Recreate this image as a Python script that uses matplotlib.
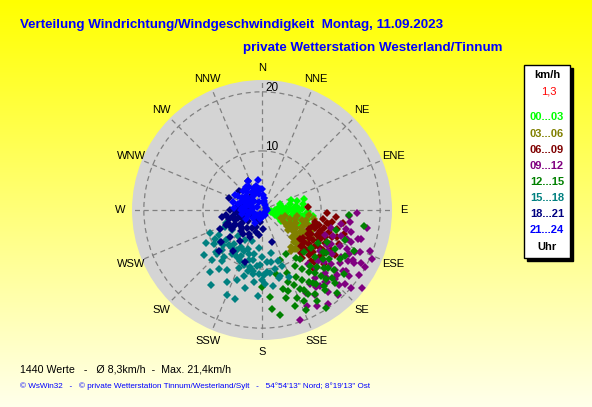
import numpy as np
import matplotlib
matplotlib.use("Agg")
import matplotlib.pyplot as plt
import matplotlib.transforms as mtransforms
from matplotlib.patches import Rectangle

# Windrichtung (Grad) / Windgeschwindigkeit (km/h), je Zeitabschnitt
dir_00_03 = [100, 95, 105, 88, 98, 110, 80, 92, 102, 115, 85, 95, 105, 112, 78, 90, 100, 108,
             84, 94, 103, 112, 88, 98, 106, 93, 101, 108, 97, 76, 71, 82, 115, 92, 85, 117, 70,
             96, 104, 91, 99, 107, 87, 94, 102, 110, 89, 97, 104, 95, 100, 86, 113, 120, 75]
spd_00_03 = [0.8, 1.5, 1.6, 2.2, 2.5, 2.3, 3.0, 3.2, 3.4, 3.1, 4.0, 4.2, 4.4, 4.0, 4.8, 5.0, 5.2, 5.4,
             5.8, 6.0, 6.2, 6.0, 6.8, 7.0, 7.2, 7.8, 8.0, 8.4, 8.7, 7.4, 5.1, 7.0, 5.5, 1.0, 3.5, 4.8, 3.2,
             2.8, 2.9, 3.8, 3.7, 3.8, 5.4, 5.5, 5.6, 5.8, 6.3, 6.5, 6.6, 7.4, 7.6, 4.5, 7.0, 3.8, 6.2]

dir_03_06 = [105, 112, 118, 108, 115, 122, 128, 100, 110, 118, 125, 132, 104, 113, 120, 127, 135, 142,
             108, 116, 123, 130, 138, 112, 119, 126, 96, 100, 133, 145, 121, 117,
             106, 114, 124, 130, 110, 122, 128, 134, 140, 115, 103]
spd_03_06 = [4.0, 3.5, 4.2, 5.0, 5.3, 5.0, 5.5, 6.0, 6.2, 6.5, 6.3, 6.8, 7.0, 7.3, 7.5, 7.2, 7.6, 7.9,
             8.2, 8.5, 8.3, 8.6, 8.8, 9.2, 9.6, 9.4, 8.0, 9.0, 9.8, 8.5, 6.0, 7.8,
             5.8, 5.9, 6.9, 7.0, 7.6, 8.0, 7.9, 8.0, 8.6, 9.0, 7.6]

dir_06_09 = [95, 86, 102, 108, 112, 118, 124, 128, 105, 110, 115, 120, 126, 132, 138, 100, 108, 113, 118,
             123, 129, 134, 140, 104, 110, 114, 120, 126, 130, 136, 139, 106, 116, 122, 98, 93, 131,
             103, 109, 116, 121, 127, 133, 106, 112, 118, 124, 130, 101, 111, 117, 123, 135, 99]
spd_06_09 = [12.6, 7.8, 11.6, 9.0, 8.5, 8.8, 8.4, 8.1, 10.0, 10.5, 10.2, 10.0, 9.8, 9.5, 9.8, 12.0, 12.0,
             11.5, 12.0, 11.5, 11.2, 11.0, 10.5, 13.0, 13.5, 14.2, 13.5, 12.8, 12.5, 12.0, 13.3, 14.5,
             11.0, 14.5, 10.5, 11.0, 14.0,
             9.2, 9.5, 9.3, 9.2, 9.0, 9.0, 11.0, 11.2, 10.9, 10.8, 10.4, 11.2, 12.6, 12.8, 12.3, 12.4, 13.8]

dir_09_12 = [92, 94, 114, 119, 161, 150, 128, 105, 112, 118, 125, 132, 100, 108, 115, 122, 128, 135, 142,
             104, 110, 117, 124, 131, 138, 145, 106, 113, 120, 127, 134, 141, 148, 111, 118, 124, 131,
             138, 100, 98, 152, 155, 145, 121, 116, 129, 137, 140,
             103, 109, 115, 121, 127, 133, 139, 107, 114, 119, 126, 132, 136, 143, 110, 122, 130, 147]
spd_09_12 = [16.0, 14.7, 20.3, 20.0, 19.7, 18.7, 21.4, 12.0, 11.5, 12.5, 12.0, 12.8, 13.5, 14.0, 14.5,
             14.0, 14.8, 15.0, 14.5, 15.5, 16.0, 16.5, 16.0, 16.8, 16.5, 16.0, 17.5, 18.0, 18.0, 18.5,
             18.2, 17.8, 17.0, 19.5, 19.0, 19.8, 20.0, 19.3, 18.0, 15.0, 16.0, 18.0, 19.5, 15.5, 13.0,
             16.0, 13.5, 12.0,
             14.5, 15.2, 15.8, 16.9, 17.2, 17.0, 16.2, 16.9, 17.3, 17.6, 17.5, 18.8, 15.7, 16.2, 12.8, 13.2, 13.8, 15.0]

dir_12_15 = [93, 99, 174, 161, 147, 165, 180, 120, 128, 135, 142, 150, 158, 125, 132, 139, 146, 153, 160,
             118, 126, 133, 140, 147, 154, 122, 130, 137, 144, 151, 158, 128, 135, 142, 149, 156, 110,
             105, 114, 138, 165, 168, 160, 152, 170, 145,
             129, 136, 143, 150, 157, 131, 138, 145, 152, 124, 134, 141, 148, 155, 162, 175, 116, 119]
spd_12_15 = [14.7, 17.4, 16.8, 17.2, 19.8, 13.8, 13.0, 11.0, 10.5, 10.0, 10.5, 11.0, 11.5, 12.5, 12.0,
             12.5, 12.0, 12.8, 13.0, 14.0, 14.0, 14.3, 14.0, 14.5, 14.8, 15.5, 15.8, 16.0, 15.5, 16.2,
             16.0, 17.5, 17.5, 17.2, 18.0, 18.5, 15.0, 13.0, 17.0, 19.0, 15.5, 11.0, 9.0, 8.5, 18.0, 10.0,
             13.2, 13.3, 13.2, 13.6, 13.8, 14.9, 15.0, 15.1, 15.3, 13.1, 16.5, 16.6, 16.8, 17.0, 14.4, 14.8,
             12.2, 16.0]

dir_15_18 = [246, 214, 202, 197, 192, 183, 160, 165, 158, 170, 175, 180, 185, 190, 195, 200, 205, 210,
             215, 220, 225, 230, 235, 240, 245, 188, 195, 202, 210, 218, 225, 232, 178, 185, 198, 210,
             222, 236, 250, 168, 172, 206, 220, 228, 192, 240,
             163, 168, 173, 178, 183, 188, 193, 198, 203, 208, 213, 218, 223, 228, 233, 238, 175, 182,
             190, 197, 204, 212, 219, 226, 166, 180, 186, 200, 216]
spd_15_18 = [9.6, 15.4, 15.6, 15.7, 13.5, 14.5, 10.0, 11.5, 12.3, 9.0, 10.5, 8.0, 9.5, 7.5, 8.8, 7.0,
             8.5, 7.2, 9.0, 7.5, 9.5, 8.0, 10.0, 8.5, 7.0, 11.0, 11.5, 10.5, 11.8, 11.0, 12.0, 12.5,
             12.5, 6.5, 5.5, 5.8, 6.0, 6.2, 6.5, 7.5, 13.0, 13.5, 13.8, 10.5, 9.8, 11.0,
             9.0, 10.2, 10.8, 11.0, 10.8, 10.5, 10.6, 9.8, 9.4, 9.0, 8.6, 8.2, 8.2, 8.8, 9.0, 9.4, 8.8, 9.3,
             8.6, 7.8, 7.6, 8.0, 10.2, 10.6, 11.8, 11.8, 12.2, 12.6, 12.4]

dir_18_21 = [226, 198, 177, 163, 242, 250, 335, 240, 255, 270, 285, 230, 245, 260, 275, 290, 235, 250,
             265, 280, 225, 240, 255, 270, 220, 210, 200, 215, 230, 260, 300, 310, 320, 190, 205, 245,
             215, 232, 205, 290,
             248, 262, 277, 236, 252, 268, 282, 243, 258, 272, 238, 248, 262, 228, 218, 208, 196, 186]
spd_18_21 = [10.1, 9.3, 3.3, 5.6, 6.0, 6.2, 5.5, 2.0, 2.5, 2.0, 2.5, 3.0, 3.5, 3.8, 3.2, 3.5, 4.5, 4.8,
             4.5, 4.2, 5.0, 5.5, 5.8, 5.5, 4.0, 3.5, 3.0, 6.5, 7.0, 6.8, 4.0, 5.0, 3.0, 2.0, 5.0, 7.8,
             8.5, 8.8, 2.0, 6.0,
             3.0, 3.0, 3.0, 4.0, 4.2, 4.0, 3.6, 5.2, 5.0, 4.8, 6.0, 6.6, 6.2, 4.6, 5.2, 4.6, 3.8, 4.2]

dir_21_24 = [335, 353, 345, 0, 350, 10, 20, 300, 280, 320, 290, 310, 270, 330, 300, 285, 260, 250, 230,
             210, 195, 240, 275, 315, 295, 340, 265, 90, 150, 180, 300, 325,
             305, 315, 325, 335, 345, 355, 290, 300, 310, 320, 330, 340, 280, 290, 300, 270, 285, 310,
             5, 15, 30, 60, 120, 200, 220, 250, 260, 275]
spd_21_24 = [5.5, 5.2, 4.2, 3.5, 2.8, 2.0, 1.2, 1.0, 1.5, 2.0, 2.5, 3.0, 2.8, 3.5, 4.0, 4.2, 3.5, 2.5,
             2.0, 2.5, 1.5, 3.2, 4.8, 4.6, 3.3, 1.5, 1.8, 0.8, 1.0, 1.2, 5.2, 4.8,
             2.0, 2.4, 2.8, 3.0, 3.2, 3.6, 2.0, 3.0, 3.6, 4.0, 4.4, 4.0, 3.0, 3.8, 4.6, 3.6, 5.0, 2.2,
             2.6, 1.5, 1.0, 0.8, 0.6, 0.8, 1.2, 1.5, 2.2, 3.4]

gruppen = [
    ("00...03", "#00ff00", dir_00_03, spd_00_03),
    ("03...06", "#808000", dir_03_06, spd_03_06),
    ("06...09", "#800000", dir_06_09, spd_06_09),
    ("09...12", "#800080", dir_09_12, spd_09_12),
    ("12...15", "#008000", dir_12_15, spd_12_15),
    ("15...18", "#008080", dir_15_18, spd_15_18),
    ("18...21", "#000080", dir_18_21, spd_18_21),
    ("21...24", "#0000ff", dir_21_24, spd_21_24),
]

richtungen = ["N", "NNE", "NE", "ENE", "E", "ESE", "SE", "SSE",
              "S", "SSW", "SW", "WSW", "W", "WNW", "NW", "NNW"]
ringe = [10, 20]
rmax = 22

plt.rcParams["font.family"] = ["Liberation Sans", "DejaVu Sans"]

fig = plt.figure(figsize=(5.92, 4.07), dpi=100)

# Hintergrund: Verlauf gelb -> hellgelb
bg = fig.add_axes([0, 0, 1, 1], zorder=-10)
grad = np.linspace(0, 1, 256)[:, None]
img = np.zeros((256, 1, 3))
img[:, :, 0] = 1
img[:, :, 1] = 1
img[:, :, 2] = 0.92 * grad
bg.imshow(img, aspect="auto", extent=[0, 1, 0, 1])
bg.axis("off")

ax = fig.add_axes([0.223, 0.1646, 0.4392, 0.6388], projection="polar")
ax.set_theta_zero_location("N")
ax.set_theta_direction(-1)
ax.set_facecolor("#d4d4d4")
ax.set_rlim(0, rmax)
ax.set_xticks(np.deg2rad(np.arange(16) * 22.5))
ax.set_xticklabels([])
ax.set_yticks(ringe)
ax.set_yticklabels([])
ax.grid(True, color="#808080", linestyle=(0, (4, 3)), linewidth=0.9)
ax.spines["polar"].set_visible(False)

for i, name in enumerate(richtungen):
    ax.text(np.deg2rad(i * 22.5), 24.0, name, ha="center", va="center",
            fontsize=8, color="black", clip_on=False)

# Ringbeschriftung etwas rechts der Nordachse
versatz = ax.transData + mtransforms.ScaledTranslation(0.10, 0, fig.dpi_scale_trans)
for r in ringe:
    ax.text(0, r + 0.6, str(r), ha="center", va="center", fontsize=8.5, color="black",
            transform=versatz)

for label, farbe, d, s in gruppen:
    ax.plot(np.deg2rad(d), s, linestyle="none", marker="D", markersize=4.0,
            color=farbe, markeredgewidth=0)

# Titel
fig.text(20 / 592, 1 - 25 / 407, "Verteilung Windrichtung/Windgeschwindigkeit  Montag, 11.09.2023",
         color="#0000ff", fontsize=9.6, fontweight="bold", ha="left", va="center")
fig.text(243 / 592, 1 - 48 / 407, "private Wetterstation Westerland/Tinnum",
         color="#0000ff", fontsize=9.6, fontweight="bold", ha="left", va="center")

# Legende
x0, y0, w, h = 524 / 592, 1 - 258 / 407, 46 / 592, 193 / 407
fig.patches.append(Rectangle((x0 + 3 / 592, y0 - 3 / 407), w, h, transform=fig.transFigure,
                             facecolor="black", edgecolor="black", zorder=1))
fig.patches.append(Rectangle((x0, y0), w, h, transform=fig.transFigure,
                             facecolor="white", edgecolor="black", linewidth=1, zorder=2))
lx = 547 / 592
fig.text(lx, 1 - 75 / 407, "km/h", fontsize=8, fontweight="bold", ha="center", va="center", zorder=3)
fig.text(549 / 592, 1 - 92 / 407, "1,3", fontsize=8, color="red", ha="center", va="center", zorder=3)
ys = [117, 134, 150, 166, 182, 198, 214, 230]
for (label, farbe, d, s), yy in zip(gruppen, ys):
    fig.text(lx, 1 - yy / 407, label, fontsize=8, fontweight="bold", color=farbe,
             ha="center", va="center", zorder=3)
fig.text(lx, 1 - 247 / 407, "Uhr", fontsize=8, fontweight="bold", ha="center", va="center", zorder=3)

# Fusszeilen
fig.text(20 / 592, 1 - 369 / 407, "1440 Werte   -   Ø 8,3km/h  -  Max. 21,4km/h",
         fontsize=7.7, ha="left", va="center")
fig.text(20 / 592, 1 - 386 / 407,
         "© WsWin32   -   © private Wetterstation Tinnum/Westerland/Sylt   -   54°54'13\" Nord; 8°19'13\" Ost",
         fontsize=5.9, color="#0000ff", ha="left", va="center")

fig.savefig("out.png", dpi=100)
